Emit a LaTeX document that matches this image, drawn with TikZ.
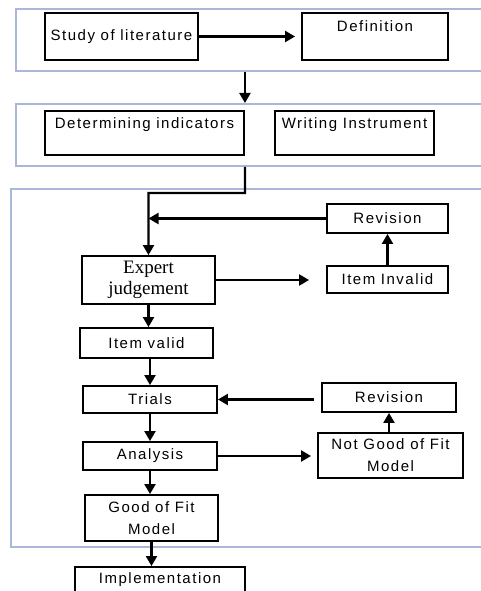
\documentclass[tikz,border=0pt]{standalone}
\usepackage{fontspec}
\setmainfont{Liberation Sans}[LetterSpace=10]
\newfontfamily\serifbox{Liberation Serif}
\usepackage{tikz}
\usetikzlibrary{positioning,arrows.meta}

\definecolor{rahmen}{RGB}{168,184,214}

\tikzset{
	box/.style={draw=black, line width=1.9pt, inner sep=0pt, align=center,
		font=\fontsize{15}{22}\selectfont},
	frame/.style={draw=rahmen, line width=1.8pt, anchor=north west, inner sep=0pt},
	arr/.style={line width=2.2pt, -{Triangle[length=10pt,width=11pt]}}
}

\begin{document}
\begin{tikzpicture}[x=1pt,y=-1pt]
		\useasboundingbox (0,0) rectangle (480,591);

		% Rahmen
		\node[frame, minimum width=480pt, minimum height=62pt] (grp1) at (15,8) {};
		\node[frame, minimum width=480pt, minimum height=62pt] (grp2) at (15,103) {};
		\node[frame, minimum width=485pt, minimum height=358pt] (grp3) at (10,188) {};

		% Knoten oben
		\node[box, minimum width=153pt, minimum height=47pt] (lit) at (121.5,36.5) {Study of literature};
		\node[box, minimum width=146pt, text height=19pt, text depth=28pt] (def) at (375,36.5) {Definition};
		\node[box, minimum width=199pt, text height=17.5pt, text depth=26.5pt] (det) at (144.5,133) {Determining indicators};
		\node[box, minimum width=159pt, text height=17.5pt, text depth=26.5pt] (wri) at (354.5,133) {Writing Instrument};

		% Knoten unten
		\node[box, minimum width=133pt, minimum height=48pt, font=\serifbox\fontsize{19}{21}\selectfont] (exp) at (148.5,280) {Expert\\judgement};
		\node[box, minimum width=121pt, minimum height=29pt] (rev1) at (387.5,218.5) {Revision};
		\node[box, minimum width=121pt, minimum height=27pt] (inv) at (387.5,279.5) {Item Invalid};
		\node[box, minimum width=133pt, minimum height=30pt] (val) at (146.5,343) {Item valid};
		\node[box, minimum width=134pt, minimum height=27pt] (tri) at (150,399.5) {Trials};
		\node[box, minimum width=134pt, minimum height=29pt] (rev2) at (389,397.5) {Revision};
		\node[box, minimum width=134pt, minimum height=28pt] (ana) at (150,456) {Analysis};
		\node[box, minimum width=145pt, minimum height=45pt] (nfit) at (390.5,455.5) {Not Good of Fit\\Model};
		\node[box, minimum width=133pt, minimum height=46pt] (fit) at (151.5,518) {Good of Fit\\Model};
		\node[box, minimum width=170pt, minimum height=34pt, text depth=12pt] (imp) at (160,584) {Implementation};

		% Pfeile
		\coordinate (knick) at (245,193);
		\draw[arr] (lit.east) -- ([xshift=-6pt]def.west |- lit.east);
		\draw[arr] (grp1.south -| det.east) -- (grp2.north -| det.east);
		\draw[arr] (grp2.south -| det.east) -- (knick) -| (exp.north);
		\draw[arr] (rev1.west) -- (rev1.west -| exp.north);
		\draw[arr, shorten >=17pt] (exp.east) -- (exp.east -| inv.west);
		\draw[arr] (inv.north) -- (rev1.south);
		\draw[arr] (exp.south) -- (val.north -| exp.south);
		\draw[arr] (val.south -| tri.north) -- (tri.north);
		\draw[arr, shorten <=7pt] (rev2.west |- tri.east) -- (tri.east);
		\draw[arr] (tri.south) -- (ana.north);
		\draw[arr, shorten >=6pt] (ana.east) -- (ana.east -| nfit.west);
		\draw[arr] (nfit.north -| rev2.south) -- (rev2.south);
		\draw[arr] (ana.south) -- (fit.north -| ana.south);
		\draw[arr] (fit.south) -- (imp.north -| fit.south);
	\end{tikzpicture}
\end{document}
